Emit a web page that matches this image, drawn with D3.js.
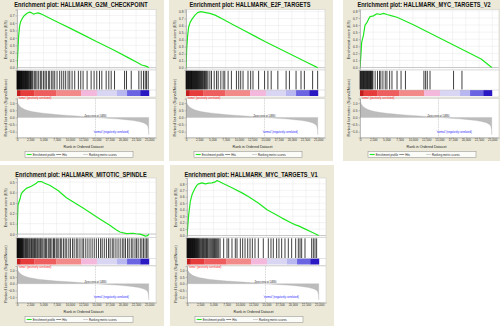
<!DOCTYPE html>
<html>
<head>
<meta charset="utf-8">
<script src="https://cdn.jsdelivr.net/npm/d3@7/dist/d3.min.js"></script>
<style>
html,body{margin:0;padding:0;background:#fff;}
svg{display:block;}
svg text{font-family:"Liberation Sans",Arial,sans-serif;}
</style>
</head>
<body>
<svg id="chart" width="500" height="327"></svg>
<script>
// ---------------- data ----------------
const geneSets = [
  "HALLMARK_G2M_CHECKPOINT",
  "HALLMARK_E2F_TARGETS",
  "HALLMARK_MYC_TARGETS_V2",
  "HALLMARK_MITOTIC_SPINDLE",
  "HALLMARK_MYC_TARGETS_V1"
];

// running enrichment score: [rank, ES]
const esG2M = [[0,0],[120,0.15],[300,0.42],[500,0.56],[700,0.62],[1000,0.66],[1400,0.7],[1900,0.73],[2400,0.745],[2800,0.735],[3100,0.718],[3500,0.726],[4000,0.735],[4500,0.722],[6000,0.67],[8000,0.6],[10000,0.53],[12820,0.43],[15000,0.35],[18180,0.24],[21000,0.135],[23000,0.06],[23560,0.036],[24190,0.025],[24600,0.015],[24900,0]];
const esE2F = [[0,0],[120,0.25],[300,0.45],[500,0.58],[800,0.65],[1200,0.7],[1700,0.75],[2200,0.785],[2800,0.8],[3500,0.79],[4500,0.775],[5500,0.75],[7000,0.69],[9000,0.61],[11000,0.53],[13000,0.45],[15000,0.37],[17000,0.295],[19000,0.22],[21000,0.145],[23000,0.07],[24500,0.015],[24900,0]];
const esMYCV2 = [[0,0],[190,0.2],[320,0.36],[636,0.45],[950,0.6],[1270,0.63],[1590,0.68],[1900,0.72],[2540,0.73],[3180,0.76],[3800,0.75],[4450,0.765],[5090,0.75],[6040,0.73],[7000,0.71],[10180,0.6],[13360,0.48],[16540,0.36],[19720,0.24],[22900,0.12],[24900,0]];
const esMitotic = [[0,0],[190,0.28],[630,0.35],[820,0.39],[1140,0.41],[1770,0.44],[2710,0.46],[3660,0.49],[3975,0.505],[4600,0.506],[5240,0.49],[6180,0.47],[7760,0.42],[9340,0.35],[12490,0.25],[15650,0.145],[17540,0.085],[18800,0.04],[19450,0.02],[20700,0.005],[21960,0.008],[22500,0.003],[23220,0.0],[23800,-0.01],[24300,-0.02],[24700,-0.015],[24900,0]];
const esMYCV1 = [[0,0],[150,0.15],[315,0.32],[630,0.53],[945,0.63],[1260,0.69],[1575,0.74],[1890,0.78],[2205,0.8],[2835,0.815],[3465,0.8],[4095,0.81],[4725,0.815],[5355,0.83],[5670,0.85],[5985,0.84],[6930,0.8],[8505,0.74],[10395,0.66],[11655,0.6],[13545,0.5],[15120,0.4],[16695,0.33],[17955,0.27],[19840,0.19],[20500,0.165],[21090,0.15],[22365,0.1],[23625,0.05],[24900,0]];

// ranks of the gene-set members in the ordered list
const hitsG2M = [20,60,110,160,230,290,350,420,480,560,640,700,780,850,930,1010,1100,1180,1260,1350,1450,1520,1610,1700,1800,1890,1990,2100,2200,2320,2450,2560,2700,2850,3000,3280,3530,3780,4100,4420,4670,5000,5300,5550,5930,6180,6560,6810,7130,7570,8070,8450,8830,9200,9650,9970,10410,10910,11600,12050,12490,13250,14010,14570,15080,15590,16030,16850,17350,17800,18430,20330,20700,21590,23030,23480,23910,24230,24480,24800];
const hitsE2F = [20,90,160,240,320,400,480,560,640,720,800,880,960,1040,1120,1200,1290,1380,1470,1560,1650,1740,1830,1920,2010,2100,2200,2300,2400,2500,2600,2720,2840,2960,3080,3200,3350,3500,3650,3800,3950,4150,4510,4820,5330,5760,6080,6580,7020,7330,7960,8580,9530,9960,10340,10780,11720,12220,12660,13720,14850,15480,16100,17360,18920,19550,20800,21740,22370,23930,24880];
const hitsMYCV2 = [20,120,230,330,440,550,660,770,880,990,1100,1210,1320,1430,1540,1650,1760,1870,1980,2090,2200,2320,2450,2860,3310,3690,3940,4330,4770,5090,5600,6040,7000,7760,8590,12080,12400,12720,13230,17680,19270];
const hitsMitotic = [30,90,160,240,300,380,450,520,600,680,760,850,930,1020,1110,1200,1350,1500,1620,1800,1950,2080,2250,2400,2600,2750,2900,3100,3300,3450,3600,3800,3950,4150,4350,4500,4700,4900,5150,5400,5600,5900,6100,6350,6600,6900,7100,7400,7600,7900,8200,8450,8800,9100,9400,9800,10100,10500,10800,11200,11500,11900,12300,12600,13000,13400,13800,14200,14600,15000,15400,15800,16100,16500,16900,17300,17600,18000,18300,18700,19100,19500,19900,20200,20500,20900,21200,21600,21900,22300,22600,22900,23300,23600,23900,24200,24500,24750];
const hitsMYCV1 = [20,80,150,220,290,360,430,500,580,650,720,800,880,950,1030,1100,1180,1260,1340,1420,1500,1600,1700,1800,1900,2000,2100,2200,2350,2500,2650,2800,2950,3100,3250,3400,3550,3700,3850,4000,4200,4400,4600,4800,5000,5200,5400,5600,5800,6000,6250,6930,7560,7880,8500,9130,9450,10080,10520,10970,11470,11910,12350,12850,13480,14420,15370,15870,16310,16940,17380,17890,18520,19150,19780,20540,21040,21360,21670,22300,23560,23880,24190,24500];

// ranked list metric (Signal2Noise): [rank, value]
const rankedMetric = [[0,1.35],[60,1.15],[190,0.98],[350,0.87],[505,0.8],[800,0.7],[1135,0.62],[1500,0.55],[1770,0.52],[2400,0.45],[3030,0.4],[4000,0.34],[4920,0.3],[6000,0.25],[7450,0.2],[9000,0.16],[10600,0.12],[12500,0.07],[14830,0],[17000,-0.06],[18800,-0.1],[20500,-0.16],[21960,-0.22],[23000,-0.29],[23850,-0.37],[24400,-0.47],[24700,-0.6],[24850,-0.85],[24900,-1.2]];

const esTicksG2M = [0,0.1,0.2,0.3,0.4,0.5,0.6,0.7];
const esTicksE2F = [0,0.1,0.2,0.3,0.4,0.5,0.6,0.7,0.8];
const esTicksMYCV2 = [0,0.1,0.2,0.3,0.4,0.5,0.6,0.7,0.8];
const esTicksMitotic = [0,0.1,0.2,0.3,0.4,0.5];
const esTicksMYCV1 = [0,0.1,0.2,0.3,0.4,0.5,0.6,0.7,0.8];
const rankTicks = [0,2500,5000,7500,10000,12500,15000,17500,20000,22500,25000];
const metricTicks = [1,0.5,0,-0.5,-1];

const zeroCrossRank = 14830;
const posPhenotype = "'tumor' (positively correlated)";
const negPhenotype = "'normal' (negatively correlated)";
const legendItems = ["Enrichment profile", "Hits", "Ranking metric scores"];

// heat-map bar under the hits: band edges (ranks) and fills
const bandEdges = [0,700,3300,7400,12100,15100,18900,20800,23300,24950];
const bandFills = ["#c21e1e","#e63c3c","#ef5e5e","#f38a8a","#f4b8dc","#d8d6f3","#b9b7ef","#6a64e2","#2a18c2"];

// ---------------- layout ----------------
const PW = 164, PH = 161;
const L = 17, R = 156;
const rankMax = 26270;
const panelOrigins = [[0,0],[169,0],[343,0],[0,165],[170,165]];
const esDomains = [[-0.031,0.78],[-0.033,0.83],[-0.035,0.82],[-0.033,0.54],[-0.03,0.89]];
const rowTop = {titleY:7.4, esTop:9.5, esBot:70, hitsBot:89.5, barTop:90, barBot:96, rankTop:98.5, rankBot:137.5};
const rowBottom = {titleY:12.3, esTop:13, esBot:72.5, hitsBot:93, barTop:93.5, barBot:99.5, rankTop:101, rankBot:137.5};
const FONT = "Liberation Sans, Arial, sans-serif";

const panels = [
  {name: geneSets[0], es: esG2M, hits: hitsG2M, ticks: esTicksG2M},
  {name: geneSets[1], es: esE2F, hits: hitsE2F, ticks: esTicksE2F},
  {name: geneSets[2], es: esMYCV2, hits: hitsMYCV2, ticks: esTicksMYCV2},
  {name: geneSets[3], es: esMitotic, hits: hitsMitotic, ticks: esTicksMitotic},
  {name: geneSets[4], es: esMYCV1, hits: hitsMYCV1, ticks: esTicksMYCV1}
];

const svg = d3.select("#chart");

// horizontally condensed text: scale the glyphs, keep the anchor point in place
function narrow(sel, k) {
  sel.each(function () {
    const s = d3.select(this);
    const x0 = +(s.attr("x") || 0);
    s.attr("x", x0 / k).attr("transform", `scale(${k},1)`);
  });
  return sel;
}

panels.forEach((p, i) => {
  const [ox, oy] = panelOrigins[i];
  const lay = i < 3 ? rowTop : rowBottom;
  const g = svg.append("g").attr("transform", `translate(${ox},${oy})`).attr("font-family", FONT);

  g.append("rect").attr("width", PW).attr("height", PH).attr("fill", "#ECE9D8");

  const x = d3.scaleLinear().domain([0, rankMax]).range([L, R]);
  const yEs = d3.scaleLinear().domain(esDomains[i]).range([lay.esBot, lay.esTop]);
  const yM = d3.scaleLinear().domain([-1.4, 1.32]).range([lay.rankBot, lay.rankTop]);

  // title
  narrow(g.append("text").attr("x", 81).attr("y", lay.titleY)
    .attr("text-anchor", "middle").attr("font-size", 7.4).attr("font-weight", "bold")
    .attr("fill", "#111").text("Enrichment plot: " + p.name), 0.76);

  // ---- ES panel ----
  g.append("rect").attr("x", L).attr("y", lay.esTop).attr("width", R - L).attr("height", lay.esBot - lay.esTop)
    .attr("fill", "#fff").attr("stroke", "#c8c8c8").attr("stroke-width", 0.5);
  const clipId = "clip" + i;
  g.append("clipPath").attr("id", clipId).append("rect")
    .attr("x", L).attr("y", lay.esTop).attr("width", R - L).attr("height", lay.esBot - lay.esTop);
  // grid
  g.append("g").selectAll("line").data(rankTicks).join("line")
    .attr("x1", d => x(d)).attr("x2", d => x(d)).attr("y1", lay.esTop).attr("y2", lay.esBot)
    .attr("stroke", "#e6e6e6").attr("stroke-width", 0.5);
  g.append("g").selectAll("line").data(p.ticks).join("line")
    .attr("x1", L).attr("x2", R).attr("y1", d => yEs(d)).attr("y2", d => yEs(d))
    .attr("stroke", "#e6e6e6").attr("stroke-width", 0.5);
  g.append("line").attr("x1", L).attr("x2", R).attr("y1", yEs(0)).attr("y2", yEs(0))
    .attr("stroke", "#bdbdbd").attr("stroke-width", 0.8);
  // enrichment profile
  g.append("path").datum(p.es).attr("clip-path", `url(#${clipId})`)
    .attr("d", d3.line().x(d => x(d[0])).y(d => yEs(d[1])))
    .attr("fill", "none").attr("stroke", "#1ee81e").attr("stroke-width", 1.2).attr("stroke-linejoin", "round");
  // ES axis
  const ax = g.append("g").attr("transform", `translate(${L},0)`)
    .call(d3.axisLeft(yEs).tickValues(p.ticks).tickSize(1.5).tickPadding(1).tickFormat(d3.format(".1f")));
  ax.attr("font-family", FONT);
  ax.select(".domain").attr("stroke", "#888").attr("stroke-width", 0.5);
  ax.selectAll(".tick line").attr("stroke", "#888").attr("stroke-width", 0.5);
  narrow(ax.selectAll("text").attr("font-size", 3.8).attr("fill", "#333"), 0.85);
  g.append("text").attr("transform", `translate(7.2,${(lay.esTop + lay.esBot) / 2}) rotate(-90)`)
    .attr("text-anchor", "middle").attr("font-size", 3.9).attr("fill", "#333").text("Enrichment score (ES)");

  // ---- hits panel ----
  g.append("rect").attr("x", L).attr("y", lay.esBot).attr("width", R - L).attr("height", lay.barBot + 1 - lay.esBot)
    .attr("fill", "#fff").attr("stroke", "#c8c8c8").attr("stroke-width", 0.5);
  g.append("g").selectAll("line").data(p.hits).join("line")
    .attr("x1", d => x(d)).attr("x2", d => x(d)).attr("y1", lay.esBot + 0.8).attr("y2", lay.hitsBot)
    .attr("stroke", "#000").attr("stroke-width", 0.75);
  // colour bar
  g.append("g").selectAll("rect").data(bandFills).join("rect")
    .attr("x", (d, j) => x(bandEdges[j])).attr("width", (d, j) => x(bandEdges[j + 1]) - x(bandEdges[j]) + 0.2)
    .attr("y", lay.barTop).attr("height", lay.barBot - lay.barTop).attr("fill", d => d);
  g.append("line").attr("x1", L).attr("x2", R).attr("y1", lay.barTop).attr("y2", lay.barTop)
    .attr("stroke", "#bbb").attr("stroke-width", 0.4);

  // ---- ranked list panel ----
  g.append("rect").attr("x", L).attr("y", lay.rankTop).attr("width", R - L).attr("height", lay.rankBot - lay.rankTop)
    .attr("fill", "#fff").attr("stroke", "#c8c8c8").attr("stroke-width", 0.5);
  const clipM = "clipm" + i;
  g.append("clipPath").attr("id", clipM).append("rect")
    .attr("x", L).attr("y", lay.rankTop).attr("width", R - L).attr("height", lay.rankBot - lay.rankTop);
  g.append("path").datum(rankedMetric).attr("clip-path", `url(#${clipM})`)
    .attr("d", d3.area().x(d => x(d[0])).y0(yM(0)).y1(d => yM(d[1])))
    .attr("fill", "#bcbcbc").attr("stroke", "#b0b0b0").attr("stroke-width", 0.3);
  g.append("line").attr("x1", x(zeroCrossRank)).attr("x2", x(zeroCrossRank))
    .attr("y1", lay.rankTop).attr("y2", lay.rankBot)
    .attr("stroke", "#9a9a9a").attr("stroke-width", 0.5).attr("stroke-dasharray", "0.8,0.8");
  narrow(g.append("text").attr("x", x(zeroCrossRank)).attr("y", yM(0) - 0.3)
    .attr("text-anchor", "middle").attr("font-size", 3.4).attr("fill", "#222")
    .text("Zero cross at " + zeroCrossRank), 0.72);
  narrow(g.append("text").attr("x", L + 1.5).attr("y", lay.barBot + 3.2)
    .attr("font-size", 3.6).attr("fill", "#ff2020").text(posPhenotype), 0.72);
  narrow(g.append("text").attr("x", x(17800)).attr("y", lay.rankBot - 4.3)
    .attr("text-anchor", "middle").attr("font-size", 3.6).attr("fill", "#2020ff").text(negPhenotype), 0.72);

  const ay = g.append("g").attr("transform", `translate(${L},0)`)
    .call(d3.axisLeft(yM).tickValues(metricTicks).tickSize(1.5).tickPadding(1).tickFormat(d3.format(".1f")));
  ay.attr("font-family", FONT);
  ay.select(".domain").attr("stroke", "#888").attr("stroke-width", 0.5);
  ay.selectAll(".tick line").attr("stroke", "#888").attr("stroke-width", 0.5);
  narrow(ay.selectAll("text").attr("font-size", 3.8).attr("fill", "#333"), 0.85);
  g.append("text").attr("transform", `translate(7.2,${(lay.esBot + lay.rankBot) / 2 + 4}) rotate(-90)`)
    .attr("text-anchor", "middle").attr("font-size", 3.9).attr("fill", "#333").text("Ranked list metric (Signal2Noise)");

  const axx = g.append("g").attr("transform", `translate(0,${lay.rankBot})`)
    .call(d3.axisBottom(x).tickValues(rankTicks).tickSize(0.8).tickPadding(0.4).tickFormat(d3.format(",")));
  axx.attr("font-family", FONT);
  axx.select(".domain").attr("stroke", "#888").attr("stroke-width", 0.5);
  axx.selectAll(".tick line").attr("stroke", "#888").attr("stroke-width", 0.5);
  narrow(axx.selectAll("text").attr("font-size", 3.5).attr("fill", "#333"), 0.88);
  narrow(g.append("text").attr("x", (L + R) / 2 - 3).attr("y", 147.6)
    .attr("text-anchor", "middle").attr("font-size", 4.4).attr("fill", "#222").text("Rank in Ordered Dataset"), 0.82);

  // ---- legend ----
  const lg = g.append("g").attr("transform", "translate(25,151.5)");
  lg.append("rect").attr("width", 108).attr("height", 6).attr("fill", "#fbfbf7").attr("stroke", "#8a8a8a").attr("stroke-width", 0.5);
  const swatch = [["#1ee81e", 1.1], ["#444", 0.6], ["#c8c8c8", 0.8]];
  const lx = [1.7, 31.2, 58];
  legendItems.forEach((txt, j) => {
    lg.append("line").attr("x1", lx[j]).attr("x2", lx[j] + 5).attr("y1", 3).attr("y2", 3)
      .attr("stroke", swatch[j][0]).attr("stroke-width", swatch[j][1]);
    narrow(lg.append("text").attr("x", lx[j] + 6).attr("y", 4.4).attr("font-size", 4)
      .attr("fill", "#222").text(txt), 0.7);
  });
});
</script>
</body>
</html>
